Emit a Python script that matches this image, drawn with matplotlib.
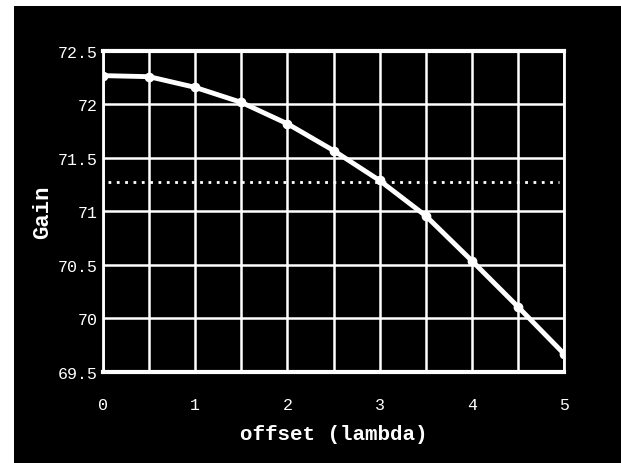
import numpy as np
import matplotlib
matplotlib.use('Agg')
import matplotlib.pyplot as plt
from matplotlib.patches import Rectangle

# gain vs offset
offset = [0, 0.5, 1, 1.5, 2, 2.5, 3, 3.5, 4, 4.5, 5]
gain = [72.27, 72.26, 72.16, 72.02, 71.82, 71.57, 71.29, 70.96, 70.54, 70.11, 69.67]
ref_gain = 71.28
xticks = [0, 1, 2, 3, 4, 5]
yticks = [69.5, 70, 70.5, 71, 71.5, 72, 72.5]

plt.rcParams['font.family'] = ['Liberation Mono', 'DejaVu Sans Mono']

fig = plt.figure(figsize=(6.21, 4.64), dpi=100, facecolor='white')
# black page area, white margin top and left
fig.add_artist(Rectangle((14/621, -0.1), 1.2, 1.1 - 7/464, transform=fig.transFigure,
                         facecolor='black', edgecolor='none', zorder=-10))

ax = fig.add_axes([103/621, 1 - 373/464, (564 - 103)/621, (373 - 52)/464])
ax.set_facecolor('black')

ax.plot(offset, gain, color='white', lw=3.5, marker='o', ms=6, zorder=3)
ax.plot([0.05, 4.95], [ref_gain, ref_gain], color='white', lw=2, ls=(0, (1, 2)), zorder=2)

ax.set_xlim(0, 5)
ax.set_ylim(69.5, 72.5)
ax.set_xticks(np.arange(0, 5.01, 0.5), minor=True)
ax.set_xticks(xticks)
ax.set_xticklabels([str(t) for t in xticks])
ax.set_yticks(yticks)
ax.set_yticklabels(['%g' % t for t in yticks])
ax.grid(True, which='both', color='white', lw=1.8)
ax.tick_params(which='both', length=0, colors='white', labelsize=12)
ax.tick_params(axis='y', pad=4)
ax.tick_params(axis='x', pad=18)

for side, w in [('top', 3), ('bottom', 3), ('left', 2), ('right', 2)]:
    ax.spines[side].set_color('white')
    ax.spines[side].set_linewidth(w)

ax.set_xlabel('offset (lambda)', color='white', fontsize=15, labelpad=9, fontweight='bold')
ax.set_ylabel('Gain', color='white', fontsize=16, labelpad=3, fontweight='bold')

fig.savefig('out.png', dpi=100, facecolor=fig.get_facecolor())
